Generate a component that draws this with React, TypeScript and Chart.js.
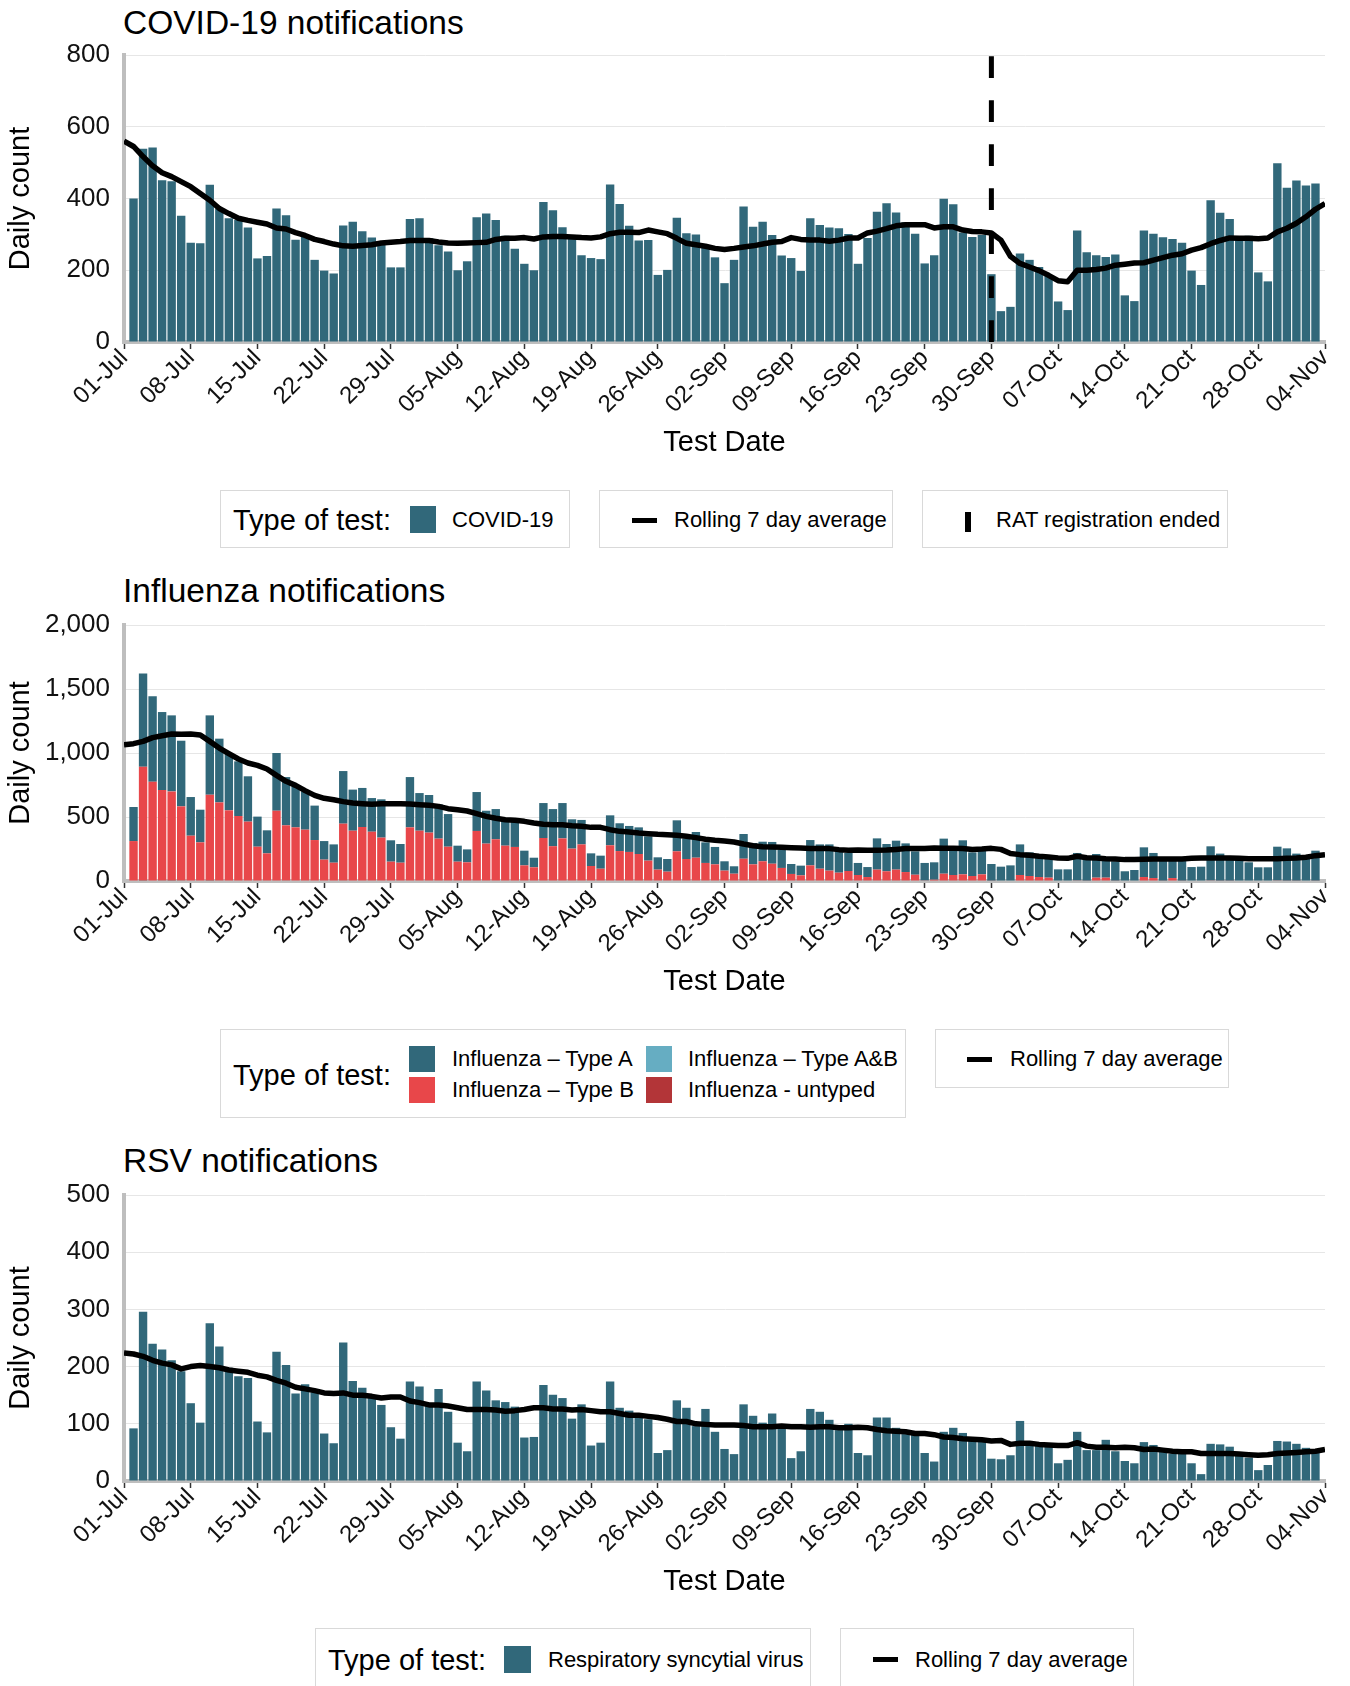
import React, { useEffect, useRef } from "react";
import { Chart, registerables } from "chart.js";

Chart.register(...registerables);

const FONT = '"Liberation Sans", Arial, Helvetica, sans-serif';
const TEAL = "#31687a";
const RED = "#e8474a";
const LIGHT_BLUE = "#66adc2";
const DARK_RED = "#b33538";
const GRID = "#e6e6e6";
const AXIS = "#bebebe";

// x tick labels, one every 7 days starting 01-Jul (day 0) to 04-Nov (day 126)
const tickDates = [
  "01-Jul", "08-Jul", "15-Jul", "22-Jul", "29-Jul", "05-Aug", "12-Aug", "19-Aug", "26-Aug", "02-Sep",
  "09-Sep", "16-Sep", "23-Sep", "30-Sep", "07-Oct", "14-Oct", "21-Oct", "28-Oct", "04-Nov",
];
const lastDay = 126;
const firstBarDay = 1; // bars run from day 1 to day 125
const ratEndedDay = 91; // 30-Sep
const ratLineRange = [0, 800];

// ---------- COVID-19 ----------
const covidCounts = [
  400, 539, 542, 451, 448, 352, 277, 275, 438, 372,
  345, 340, 319, 233, 240, 372, 353, 285, 293, 229,
  199, 191, 325, 335, 309, 291, 273, 208, 208, 343,
  345, 289, 270, 252, 200, 225, 348, 358, 340, 296,
  260, 218, 200, 390, 367, 320, 287, 242, 234, 231,
  439, 385, 324, 283, 284, 187, 201, 346, 303, 300,
  263, 236, 164, 229, 378, 321, 335, 298, 241, 234,
  198, 345, 326, 319, 317, 301, 218, 290, 363, 387,
  361, 334, 302, 219, 242, 399, 384, 305, 293, 298,
  189, 86, 98, 247, 229, 209, 186, 113, 89, 311,
  250, 242, 237, 244, 130, 114, 311, 302, 292, 287,
  277, 199, 159, 395, 360, 343, 294, 296, 194, 169,
  498, 430, 450, 436, 442,
];
const covidRolling = [
  560, 545, 517, 491, 472, 461, 447, 433, 414, 395,
  372, 358, 345, 339, 334, 329, 318, 315, 305, 297,
  286, 280, 273, 268, 267, 269, 271, 276, 278, 280,
  283, 283, 283, 279, 276, 275, 276, 277, 278, 286,
  289, 289, 291, 287, 293, 294, 294, 293, 291, 290,
  293, 302, 306, 306, 305, 312, 307, 302, 289, 275,
  271, 267, 261, 258, 261, 265, 268, 273, 278, 280,
  291, 286, 284, 284, 281, 284, 290, 290, 304, 309,
  316, 324, 327, 327, 327, 318, 321, 321, 312, 308,
  307, 304, 284, 239, 219, 209, 199, 186, 171, 168,
  200, 200, 202, 206, 214, 217, 220, 221, 228, 235,
  242, 246, 256, 263, 274, 283, 290, 289, 289, 288,
  290, 307, 317, 331, 349, 370, 386,
];

// ---------- Influenza ----------
const fluTypeA = [
  266, 729, 667, 609, 594, 513, 302, 255, 620, 498,
  448, 427, 354, 235, 180, 451, 377, 321, 299, 269,
  145, 143, 411, 321, 305, 263, 299, 167, 146, 393,
  294, 294, 268, 255, 125, 101, 304, 257, 236, 195,
  205, 115, 75, 273, 290, 276, 229, 191, 99, 102,
  234, 217, 203, 208, 190, 96, 99, 242, 161, 201,
  161, 136, 73, 58, 193, 167, 153, 170, 143, 78,
  76, 198, 190, 205, 175, 141, 94, 78, 244, 213,
  226, 224, 183, 136, 136, 274, 226, 266, 185, 211,
  130, 112, 122, 239, 185, 167, 164, 91, 91, 214,
  184, 185, 135, 151, 76, 86, 232, 196, 166, 144,
  153, 109, 112, 266, 211, 169, 164, 146, 107, 107,
  263, 252, 211, 180, 234,
];
const fluTypeB = [
  312, 885, 776, 705, 692, 577, 354, 302, 666, 609,
  552, 508, 464, 268, 216, 549, 430, 419, 401, 320,
  167, 143, 443, 393, 422, 385, 339, 151, 143, 419,
  393, 378, 331, 268, 151, 146, 391, 292, 326, 276,
  266, 122, 107, 336, 272, 333, 253, 286, 117, 96,
  279, 234, 227, 211, 159, 89, 73, 232, 172, 182,
  141, 130, 81, 57, 174, 130, 154, 135, 102, 55,
  44, 122, 96, 81, 65, 78, 47, 31, 89, 76,
  89, 70, 49, 5, 10, 57, 47, 52, 39, 52,
  3, 0, 0, 47, 39, 31, 26, 0, 0, 5,
  3, 26, 26, 3, 0, 0, 31, 23, 3, 23,
  3, 0, 0, 5, 3, 3, 0, 0, 0, 0,
  5, 3, 3, 0, 3,
];
const fluTypeAB = [
  0, 0, 0, 0, 0, 0, 0, 0, 0, 0,
  0, 0, 0, 0, 0, 0, 0, 0, 0, 0,
  0, 0, 0, 0, 0, 0, 0, 0, 0, 0,
  0, 0, 0, 0, 0, 0, 0, 0, 0, 0,
  0, 0, 0, 0, 0, 0, 0, 0, 0, 0,
  0, 0, 0, 0, 0, 0, 0, 0, 0, 0,
  0, 0, 0, 0, 0, 0, 0, 0, 0, 0,
  0, 0, 0, 0, 0, 0, 0, 0, 0, 0,
  0, 0, 0, 0, 0, 0, 0, 0, 0, 0,
  0, 0, 0, 0, 0, 0, 0, 0, 0, 0,
  0, 0, 0, 0, 0, 0, 0, 0, 0, 0,
  0, 0, 0, 0, 0, 0, 0, 0, 0, 0,
  0, 0, 0, 0, 0,
];
const fluUntyped = [
  0, 8, 0, 6, 8, 6, 0, 0, 8, 5,
  0, 0, 0, 0, 0, 0, 5, 0, 0, 0,
  0, 0, 5, 0, 0, 0, 0, 0, 0, 0,
  0, 0, 0, 0, 0, 0, 0, 0, 0, 0,
  0, 0, 0, 0, 0, 0, 0, 0, 0, 0,
  0, 0, 0, 0, 0, 0, 0, 0, 0, 0,
  0, 0, 0, 0, 0, 0, 0, 0, 0, 0,
  0, 0, 0, 0, 0, 0, 0, 0, 0, 0,
  0, 0, 0, 0, 0, 0, 0, 0, 0, 0,
  0, 0, 0, 0, 0, 0, 0, 0, 0, 0,
  0, 0, 0, 0, 0, 0, 0, 0, 0, 0,
  0, 0, 0, 0, 0, 0, 0, 0, 0, 0,
  0, 0, 0, 0, 0,
];
const fluRolling = [
  1065, 1073, 1091, 1120, 1135, 1148, 1146, 1148, 1141, 1091,
  1039, 995, 953, 922, 903, 875, 825, 779, 747, 706,
  669, 646, 635, 620, 609, 604, 599, 604, 604, 604,
  602, 596, 591, 583, 565, 557, 547, 526, 505, 490,
  479, 474, 466, 453, 443, 440, 440, 432, 427, 419,
  419, 401, 388, 383, 375, 370, 365, 362, 357, 349,
  339, 326, 318, 312, 305, 289, 276, 268, 266, 263,
  260, 258, 253, 253, 253, 245, 240, 242, 240, 240,
  242, 247, 253, 253, 253, 258, 255, 255, 253, 247,
  250, 255, 247, 214, 206, 201, 193, 187, 180, 177,
  193, 182, 180, 174, 172, 167, 167, 169, 172, 172,
  172, 172, 177, 180, 180, 180, 180, 177, 174, 174,
  174, 174, 177, 180, 185, 198, 206,
];

// ---------- RSV ----------
const rsvCounts = [
  92, 296, 240, 230, 211, 192, 136, 102, 276, 235,
  198, 183, 180, 104, 85, 226, 203, 153, 169, 155,
  83, 66, 242, 175, 163, 146, 133, 94, 74, 174,
  165, 131, 161, 121, 67, 52, 174, 158, 141, 138,
  130, 76, 77, 168, 151, 145, 109, 134, 62, 67,
  174, 128, 123, 115, 108, 49, 54, 141, 128, 96,
  126, 86, 56, 47, 134, 114, 102, 118, 96, 40,
  52, 126, 121, 107, 89, 100, 49, 45, 111, 111,
  93, 82, 82, 49, 34, 86, 93, 84, 73, 70,
  39, 38, 45, 105, 70, 67, 64, 31, 37, 86,
  54, 54, 72, 52, 35, 31, 68, 63, 56, 48,
  48, 31, 12, 65, 64, 60, 45, 41, 19, 28,
  70, 69, 65, 58, 54,
];
const rsvRolling = [
  224, 222, 218, 211, 206, 203, 196, 200, 202, 200,
  198, 194, 192, 190, 185, 182, 176, 171, 164, 161,
  158, 154, 153, 154, 150, 150, 148, 145, 147, 147,
  140, 137, 133, 133, 131, 128, 125, 125, 125, 124,
  122, 123, 125, 128, 128, 126, 126, 124, 125, 123,
  121, 121, 118, 115, 115, 113, 111, 108, 104, 104,
  100, 99, 98, 98, 98, 97, 95, 95, 95, 96,
  95, 95, 94, 95, 95, 93, 93, 94, 93, 90,
  88, 87, 86, 83, 83, 81, 77, 76, 74, 73,
  72, 70, 71, 64, 66, 66, 64, 63, 62, 62,
  67, 61, 59, 59, 58, 59, 58, 55, 56, 54,
  52, 51, 51, 48, 48, 48, 48, 47, 46, 45,
  46, 48, 49, 50, 51, 52, 55,
];

// ---------- helpers ----------
function barSeries(values: number[]) {
  return values.map((v, i) => ({ x: firstBarDay + i, y: v }));
}
function lineSeries(values: number[]) {
  return values.map((v, i) => ({ x: i, y: v }));
}
function fmt(v: number) {
  return String(v).replace(/\B(?=(\d{3})+(?!\d))/g, ",");
}

const barStyle = {
  barPercentage: 0.88,
  categoryPercentage: 1,
  borderWidth: 0,
  order: 2,
  stack: "counts",
};

const avgStyle = {
  type: "line" as const,
  borderColor: "#000",
  borderWidth: 5.5,
  pointRadius: 0,
  tension: 0,
  fill: false,
  order: 0,
  stack: "avg",
  borderJoinStyle: "round" as const,
};

const X_AXIS_H = 118;
const Y_AXIS_W = 124;
const TOP_PAD = 30;

function panelOptions(yMax: number, yStep: number, stacked: boolean): any {
  return {
    responsive: false,
    animation: false,
    events: [],
    layout: { padding: { top: TOP_PAD, right: 25, left: 0, bottom: 0 } },
    plugins: { legend: { display: false }, tooltip: { enabled: false } },
    scales: {
      x: {
        type: "linear",
        min: 0,
        max: lastDay,
        offset: false,
        stacked: stacked,
        z: 1,
        grid: {
          display: true,
          offset: false,
          drawOnChartArea: false,
          drawTicks: true,
          tickLength: 7,
          tickColor: "#333",
          tickWidth: 1.5,
        },
        border: { display: true, color: AXIS, width: 4 },
        ticks: {
          stepSize: 7,
          maxTicksLimit: tickDates.length,
          autoSkip: false,
          maxRotation: 45,
          minRotation: 45,
          padding: -5,
          color: "#111",
          font: { family: FONT, size: 24 },
          callback: (v: number) => tickDates[Math.round(v / 7)] ?? "",
        },
        title: {
          display: true,
          text: "Test Date",
          color: "#000",
          font: { family: FONT, size: 29 },
          padding: { top: 0, bottom: 0 },
        },
        afterFit: (s: any) => {
          s.height = X_AXIS_H;
        },
      },
      y: {
        min: 0,
        max: yMax,
        stacked: stacked,
        grid: { color: GRID, lineWidth: 1, drawTicks: false },
        border: { display: true, color: AXIS, width: 4 },
        ticks: {
          stepSize: yStep,
          padding: 14,
          color: "#111",
          font: { family: FONT, size: 26 },
          callback: (v: number) => fmt(v),
        },
        title: {
          display: true,
          text: "Daily count",
          color: "#000",
          font: { family: FONT, size: 29 },
          padding: { top: 4, bottom: 0 },
        },
        afterFit: (s: any) => {
          s.width = Y_AXIS_W;
        },
      },
    },
  };
}

function covidConfig(): any {
  return {
    type: "bar",
    data: {
      datasets: [
        { ...avgStyle, label: "Rolling 7 day average", data: lineSeries(covidRolling) },
        {
          type: "line",
          label: "RAT registration ended",
          data: ratLineRange.map((y) => ({ x: ratEndedDay, y })),
          borderColor: "#000",
          borderWidth: 5,
          borderDash: [21.7, 22.3],
          pointRadius: 0,
          order: 1,
          stack: "rat",
        },
        { ...barStyle, label: "COVID-19", backgroundColor: TEAL, data: barSeries(covidCounts) },
      ],
    },
    options: panelOptions(800, 200, false),
  };
}

function fluConfig(): any {
  return {
    type: "bar",
    data: {
      datasets: [
        { ...avgStyle, label: "Rolling 7 day average", data: lineSeries(fluRolling) },
        { ...barStyle, label: "Influenza - untyped", backgroundColor: DARK_RED, data: barSeries(fluUntyped) },
        { ...barStyle, label: "Influenza – Type B", backgroundColor: RED, data: barSeries(fluTypeB) },
        { ...barStyle, label: "Influenza – Type A&B", backgroundColor: LIGHT_BLUE, data: barSeries(fluTypeAB) },
        { ...barStyle, label: "Influenza – Type A", backgroundColor: TEAL, data: barSeries(fluTypeA) },
      ],
    },
    options: panelOptions(2000, 500, true),
  };
}

function rsvConfig(): any {
  return {
    type: "bar",
    data: {
      datasets: [
        { ...avgStyle, label: "Rolling 7 day average", data: lineSeries(rsvRolling) },
        { ...barStyle, label: "Respiratory syncytial virus", backgroundColor: TEAL, data: barSeries(rsvCounts) },
      ],
    },
    options: panelOptions(500, 100, false),
  };
}

// ---------- layout helpers ----------
const abs = (left: number, top: number, extra: any = {}): any => ({
  position: "absolute",
  left,
  top,
  ...extra,
});

function Box({ left, top, width, height }: any) {
  return (
    <div
      style={abs(left, top, {
        width,
        height,
        boxSizing: "border-box",
        border: "1px solid #d9d9d9",
        background: "#fff",
      })}
    />
  );
}

function Text({ left, cy, size, children }: any) {
  return (
    <div
      style={abs(left, cy - size / 2, {
        fontSize: size,
        lineHeight: `${size}px`,
        height: size,
        whiteSpace: "nowrap",
        color: "#000",
      })}
    >
      {children}
    </div>
  );
}

function Swatch({ left, top, w, h, color }: any) {
  return <div style={abs(left, top, { width: w, height: h, background: color })} />;
}

function Title({ cy, children }: any) {
  return (
    <div style={abs(123, cy - 17, { fontSize: 33.5, lineHeight: "34px", whiteSpace: "nowrap", color: "#000" })}>
      {children}
    </div>
  );
}

export default function App() {
  const covidRef = useRef<HTMLCanvasElement>(null);
  const fluRef = useRef<HTMLCanvasElement>(null);
  const rsvRef = useRef<HTMLCanvasElement>(null);

  useEffect(() => {
    Chart.defaults.font.family = FONT;
    Chart.defaults.color = "#111";
    const charts = [
      new Chart(covidRef.current as HTMLCanvasElement, covidConfig()),
      new Chart(fluRef.current as HTMLCanvasElement, fluConfig()),
      new Chart(rsvRef.current as HTMLCanvasElement, rsvConfig()),
    ];
    return () => charts.forEach((c) => c.destroy());
  }, []);

  return (
    <div
      style={abs(0, 0, {
        width: 1350,
        height: 1686,
        overflow: "hidden",
        background: "#fff",
        fontFamily: FONT,
      })}
    >
      {/* COVID-19 */}
      <Title cy={23}>COVID-19 notifications</Title>
      <canvas ref={covidRef} width={1350} height={435} style={abs(0, 25)} />
      <Box left={220} top={490} width={350} height={58} />
      <Text left={233} cy={520} size={29}>Type of test:</Text>
      <Swatch left={410} top={506} w={26} h={27} color={TEAL} />
      <Text left={452} cy={520} size={22}>COVID-19</Text>
      <Box left={599} top={490} width={294} height={58} />
      <Swatch left={632} top={518} w={25} h={5} color="#000" />
      <Text left={674} cy={520} size={22}>Rolling 7 day average</Text>
      <Box left={922} top={490} width={306} height={58} />
      <Swatch left={965} top={512} w={6} h={20} color="#000" />
      <Text left={996} cy={520} size={22}>RAT registration ended</Text>

      {/* Influenza */}
      <Title cy={591}>Influenza notifications</Title>
      <canvas ref={fluRef} width={1350} height={404} style={abs(0, 595)} />
      <Box left={220} top={1029} width={686} height={89} />
      <Text left={233} cy={1075} size={29}>Type of test:</Text>
      <Swatch left={409} top={1046} w={26} h={26} color={TEAL} />
      <Text left={452} cy={1059} size={22}>Influenza – Type A</Text>
      <Swatch left={646} top={1046} w={26} h={26} color={LIGHT_BLUE} />
      <Text left={688} cy={1059} size={22}>Influenza – Type A&amp;B</Text>
      <Swatch left={409} top={1077} w={26} h={26} color={RED} />
      <Text left={452} cy={1090} size={22}>Influenza – Type B</Text>
      <Swatch left={646} top={1077} w={26} h={26} color={DARK_RED} />
      <Text left={688} cy={1090} size={22}>Influenza - untyped</Text>
      <Box left={935} top={1029} width={294} height={59} />
      <Swatch left={967} top={1057} w={25} h={5} color="#000" />
      <Text left={1010} cy={1059} size={22}>Rolling 7 day average</Text>

      {/* RSV */}
      <Title cy={1161}>RSV notifications</Title>
      <canvas ref={rsvRef} width={1350} height={434} style={abs(0, 1165)} />
      <Box left={315} top={1628} width={496} height={62} />
      <Text left={328} cy={1660} size={29}>Type of test:</Text>
      <Swatch left={504} top={1646} w={27} h={27} color={TEAL} />
      <Text left={548} cy={1660} size={22}>Respiratory syncytial virus</Text>
      <Box left={840} top={1628} width={294} height={62} />
      <Swatch left={873} top={1657} w={25} h={5} color="#000" />
      <Text left={915} cy={1660} size={22}>Rolling 7 day average</Text>
    </div>
  );
}
